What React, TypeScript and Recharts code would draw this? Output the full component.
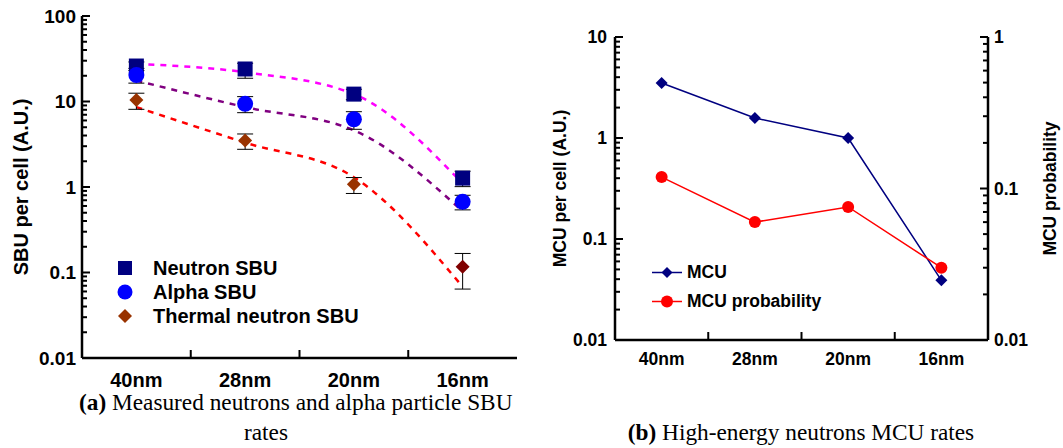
import { ComposedChart, Line, XAxis, YAxis, ErrorBar, Legend } from "recharts";

const sizes = ["40nm", "28nm", "20nm", "16nm"];

// (a) SBU per cell, A.U.
const neutronSbu = [26, 24, 12.2, 1.27];
const neutronErr = [[3, 3], [5.3, 4], [1.7, 1.7], [0.26, 0.26]];
const alphaSbu = [20.4, 9.4, 6.2, 0.67];
const alphaErr = [[4, 4], [2, 2], [1.47, 1.4], [0.13, 0.13]];
const thermalSbu = [10.4, 3.5, 1.08, 0.117];
const thermalErr = [[2.3, 2.1], [0.74, 0.67], [0.24, 0.21], [0.053, 0.05]];
// dashed trend curves
const neutronFit = [27.5, 22, 12.2, 1.1];
const alphaFit = [17.6, 8.6, 4.6, 0.52];
const thermalFit = [8.6, 3.3, 1.3, 0.068];

// (b) MCU
const mcu = [3.5, 1.58, 1.0, 0.039];
const mcuProb = [0.119, 0.06, 0.0755, 0.03];

const sbuTicks = [0.01, 0.1, 1, 10, 100];
const mcuTicks = [0.01, 0.1, 1, 10];
const probTicks = [0.01, 0.1, 1];

const FONT = "'Liberation Sans', Arial, sans-serif";
const SERIF = "'Liberation Serif', 'Times New Roman', serif";
const axisLine = { stroke: "#000", strokeWidth: 2.5 };
const thermalColors = ["#993300", "#993300", "#993300", "#800000"];

const sbuData = sizes.map((size, i) => ({
  size,
  neutron: neutronSbu[i],
  neutronErr: neutronErr[i],
  alpha: alphaSbu[i],
  alphaErr: alphaErr[i],
  thermal: thermalSbu[i],
  thermalErr: thermalErr[i],
  neutronFit: neutronFit[i],
  alphaFit: alphaFit[i],
  thermalFit: thermalFit[i],
}));

const mcuData = sizes.map((size, i) => ({ size, mcu: mcu[i], prob: mcuProb[i] }));

const withMinor = (majors: number[]) => [
  ...majors,
  ...majors.slice(0, -1).flatMap((d) => [2, 3, 4, 5, 6, 7, 8, 9].map((k) => +(d * k).toPrecision(3))),
];
const isDecade = (v: number) => Math.abs(Math.log10(v) - Math.round(Math.log10(v))) < 1e-6;

function yTick(side: "left" | "right", margin: number, fontSize: number) {
  return (p: any) => {
    const v = p.payload.value;
    const major = isDecade(v);
    const dir = side === "left" ? 1 : -1;
    const ax = p.x + dir * margin;
    return (
      <g key={`t-${v}`}>
        <line x1={ax} x2={ax + dir * (major ? 8 : 5)} y1={p.y} y2={p.y} stroke="#000" strokeWidth={2} />
        {major && (
          <text
            x={p.x}
            y={p.y}
            dy="0.36em"
            textAnchor={side === "left" ? "end" : "start"}
            fontFamily={FONT}
            fontWeight="bold"
            fontSize={fontSize}
            fill="#000"
          >
            {String(v)}
          </text>
        )}
      </g>
    );
  };
}

function xTick(margin: number, fontSize: number, band: number) {
  return (p: any) => {
    const axisY = p.y - margin;
    const bx = p.x + band / 2;
    return (
      <g key={`x-${p.index}`}>
        {p.index < sizes.length - 1 && (
          <line x1={bx} x2={bx} y1={axisY} y2={axisY - 8} stroke="#000" strokeWidth={2} />
        )}
        <text
          x={p.x}
          y={p.y}
          dy="0.71em"
          textAnchor="middle"
          fontFamily={FONT}
          fontWeight="bold"
          fontSize={fontSize}
          fill="#000"
        >
          {p.payload.value}
        </text>
      </g>
    );
  };
}

function yTitle(text: string, x: number, fontSize: number) {
  return ({ viewBox }: any) => {
    const cy = viewBox.y + viewBox.height / 2;
    return (
      <text
        x={x}
        y={cy}
        transform={`rotate(-90, ${x}, ${cy})`}
        textAnchor="middle"
        dominantBaseline="central"
        fontFamily={FONT}
        fontWeight="bold"
        fontSize={fontSize}
        fill="#000"
      >
        {text}
      </text>
    );
  };
}

const Square = (p: any) => (
  <rect key={`s-${p.index}`} x={p.cx - 7.5} y={p.cy - 7.5} width={15} height={15} fill="#000080" />
);
const Circle = (p: any) => <circle key={`c-${p.index}`} cx={p.cx} cy={p.cy} r={8} fill="#0000ff" />;
const Diamond = (p: any) => (
  <polygon
    key={`d-${p.index}`}
    points={`${p.cx},${p.cy - 7} ${p.cx + 7},${p.cy} ${p.cx},${p.cy + 7} ${p.cx - 7},${p.cy}`}
    fill={thermalColors[p.index] || "#993300"}
  />
);
const SmallDiamond = (p: any) => (
  <polygon
    key={`m-${p.index}`}
    points={`${p.cx},${p.cy - 6} ${p.cx + 6},${p.cy} ${p.cx},${p.cy + 6} ${p.cx - 6},${p.cy}`}
    fill="#000080"
  />
);
const RedDot = (p: any) => <circle key={`r-${p.index}`} cx={p.cx} cy={p.cy} r={6} fill="#ff0000" />;

const sbuLegend = [
  { name: "Neutron SBU", mark: <rect x={3} y={5} width={14} height={14} fill="#000080" /> },
  { name: "Alpha SBU", mark: <circle cx={10} cy={12} r={7.5} fill="#0000ff" /> },
  { name: "Thermal neutron SBU", mark: <polygon points="10,5 17,12 10,19 3,12" fill="#993300" /> },
];

const LeftLegend = () => (
  <div style={{ fontFamily: FONT, fontWeight: "bold", fontSize: 20, color: "#000" }}>
    {sbuLegend.map((r) => (
      <div key={r.name} style={{ display: "flex", alignItems: "center", height: 24 }}>
        <svg width={20} height={24}>{r.mark}</svg>
        <span style={{ marginLeft: 18, lineHeight: "24px" }}>{r.name}</span>
      </div>
    ))}
  </div>
);

const mcuLegend = [
  { name: "MCU", color: "#000080", mark: <polygon points="15,9 20.5,14.5 15,20 9.5,14.5" fill="#000080" /> },
  { name: "MCU probability", color: "#ff0000", mark: <circle cx={15} cy={14.5} r={6} fill="#ff0000" /> },
];

const RightLegend = () => (
  <div style={{ fontFamily: FONT, fontWeight: "bold", fontSize: 17.5, color: "#000" }}>
    {mcuLegend.map((r) => (
      <div key={r.name} style={{ display: "flex", alignItems: "center", height: 29 }}>
        <svg width={30} height={29}>
          <line x1={0} x2={30} y1={14.5} y2={14.5} stroke={r.color} strokeWidth={1.5} />
          {r.mark}
        </svg>
        <span style={{ marginLeft: 5, lineHeight: "29px" }}>{r.name}</span>
      </div>
    ))}
  </div>
);

export default function App() {
  return (
    <div style={{ position: "absolute", left: 0, top: 0, width: 1063, height: 448, background: "#fff" }}>
      <svg width={1063} height={448} style={{ position: "absolute", left: 0, top: 0 }}>
        <text x={79} y={410} fontFamily={SERIF} fontSize={23.3} fill="#000">
          <tspan fontWeight="bold">(a)</tspan> Measured neutrons and alpha particle SBU
        </text>
        <text x={266} y={440} textAnchor="middle" fontFamily={SERIF} fontSize={23.3} fill="#000">
          rates
        </text>
        <text x={801} y={440} textAnchor="middle" fontFamily={SERIF} fontSize={23.3} fill="#000">
          <tspan fontWeight="bold">(b)</tspan> High-energy neutrons MCU rates
        </text>
      </svg>

      <div style={{ position: "absolute", left: 0, top: 0 }}>
        <ComposedChart width={530} height={390} data={sbuData} margin={{ top: 16, right: 13, left: 0, bottom: 0 }}>
          <XAxis
            dataKey="size"
            scale="band"
            height={32}
            interval={0}
            tickSize={0}
            tickMargin={15}
            tickLine={false}
            axisLine={axisLine}
            tick={xTick(15, 20, 435 / 4)}
          />
          <XAxis xAxisId="top" dataKey="size" scale="band" orientation="top" height={0} tick={false} tickLine={false} axisLine={axisLine} />
          <YAxis
            scale="log"
            type="number"
            domain={[0.01, 100]}
            allowDataOverflow
            ticks={withMinor(sbuTicks)}
            interval={0}
            width={82}
            tickSize={0}
            tickMargin={6}
            tickLine={false}
            axisLine={axisLine}
            tick={yTick("left", 6, 19)}
            label={{ content: yTitle("SBU per cell (A.U.)", 21, 20) }}
          />
          <YAxis
            yAxisId="r"
            orientation="right"
            scale="log"
            type="number"
            domain={[0.01, 100]}
            allowDataOverflow
            width={0}
            tick={false}
            tickLine={false}
            axisLine={axisLine}
          />
          <Line dataKey="neutronFit" type="monotone" stroke="#ff00ff" strokeWidth={2.5} strokeDasharray="6 6" dot={false} isAnimationActive={false} />
          <Line dataKey="alphaFit" type="monotone" stroke="#800080" strokeWidth={2.5} strokeDasharray="6 6" dot={false} isAnimationActive={false} />
          <Line dataKey="thermalFit" type="monotone" stroke="#ff0000" strokeWidth={2.5} strokeDasharray="6 6" dot={false} isAnimationActive={false} />
          <Line dataKey="neutron" stroke="none" dot={Square} activeDot={false} isAnimationActive={false}>
            <ErrorBar dataKey="neutronErr" width={8} stroke="#000" strokeWidth={1} />
          </Line>
          <Line dataKey="alpha" stroke="none" dot={Circle} activeDot={false} isAnimationActive={false}>
            <ErrorBar dataKey="alphaErr" width={8} stroke="#000" strokeWidth={1} />
          </Line>
          <Line dataKey="thermal" stroke="none" dot={Diamond} activeDot={false} isAnimationActive={false}>
            <ErrorBar dataKey="thermalErr" width={8} stroke="#000" strokeWidth={1} />
          </Line>
          <Legend
            layout="vertical"
            align="center"
            verticalAlign="middle"
            content={() => <LeftLegend />}
            wrapperStyle={{ left: 115, top: 256, width: "auto", height: "auto" }}
          />
        </ComposedChart>
      </div>

      <div style={{ position: "absolute", left: 530, top: 0 }}>
        <ComposedChart width={533} height={372} data={mcuData} margin={{ top: 37, right: 0, left: 0, bottom: 0 }}>
          <XAxis
            dataKey="size"
            scale="band"
            height={32}
            interval={0}
            tickSize={0}
            tickMargin={13}
            tickLine={false}
            axisLine={axisLine}
            tick={xTick(13, 17.5, 373 / 4)}
          />
          <XAxis xAxisId="top" dataKey="size" scale="band" orientation="top" height={0} tick={false} tickLine={false} axisLine={axisLine} />
          <YAxis
            yAxisId="left"
            scale="log"
            type="number"
            domain={[0.01, 10]}
            allowDataOverflow
            ticks={withMinor(mcuTicks)}
            interval={0}
            width={85}
            tickSize={0}
            tickMargin={8}
            tickLine={false}
            axisLine={axisLine}
            tick={yTick("left", 8, 17.5)}
            label={{ content: yTitle("MCU per cell (A.U.)", 30, 17.5) }}
          />
          <YAxis
            yAxisId="right"
            orientation="right"
            scale="log"
            type="number"
            domain={[0.01, 1]}
            allowDataOverflow
            ticks={withMinor(probTicks)}
            interval={0}
            width={75}
            tickSize={0}
            tickMargin={6}
            tickLine={false}
            axisLine={axisLine}
            tick={yTick("right", 6, 17.5)}
            label={{ content: yTitle("MCU probability", 520, 17.5) }}
          />
          <Line yAxisId="left" dataKey="mcu" stroke="#000080" strokeWidth={1.5} dot={SmallDiamond} activeDot={false} isAnimationActive={false} />
          <Line yAxisId="right" dataKey="prob" stroke="#ff0000" strokeWidth={1.5} dot={RedDot} activeDot={false} isAnimationActive={false} />
          <Legend
            layout="vertical"
            align="center"
            verticalAlign="middle"
            content={() => <RightLegend />}
            wrapperStyle={{ left: 122, top: 258, width: "auto", height: "auto" }}
          />
        </ComposedChart>
      </div>
    </div>
  );
}
